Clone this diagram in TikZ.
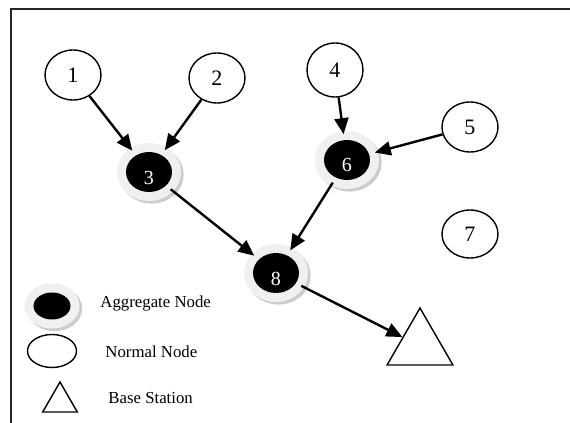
\documentclass[tikz,border=0pt]{standalone}
\usepackage{fontspec}
\setmainfont{Liberation Serif}
\usetikzlibrary{shapes.geometric,arrows.meta}
\begin{document}
\begin{tikzpicture}[x=0.5pt,y=-0.5pt,
    normal/.style={ellipse,draw,line width=0.7pt,inner sep=0pt,
      minimum width=28pt,minimum height=25pt,font=\fontsize{11}{11}\selectfont},
    agg/.style={ellipse,fill=black,text=white,inner sep=0pt,outer sep=3pt,
      minimum width=23pt,minimum height=20pt,font=\fontsize{10}{10}\selectfont,
      preaction={draw=gray!40,line width=9pt,transform canvas={xshift=1.3pt,yshift=-1.3pt}},
      preaction={draw=gray!12,line width=9pt}},
    base/.style={regular polygon,regular polygon sides=3,draw,line width=0.7pt,inner sep=0pt},
    legendtext/.style={anchor=west,inner sep=0pt,font=\fontsize{8.4}{9}\selectfont}]
  \useasboundingbox (0,0) rectangle (570,423);
  \draw[line width=1pt,black!85] (570,9) -- (11,9) -- (11,423);
  \draw
    (73,75) node[normal] (1){1}
    (217,78) node[normal] (2){2}
    (149,172) node[agg] (3){\smash{\raisebox{-6pt}{3}}}
    (335,70) node[normal,minimum height=27pt] (4){4}
    (470,127) node[normal] (5){5}
    (347,160) node[agg] (6){\smash{\raisebox{-6pt}{6}}}
    (470,234) node[normal,minimum height=24pt] (7){7}
    (276,273) node[agg] (8){\smash{\raisebox{-6pt}{8}}}
    (420,346) node[base,minimum size=38pt] (bs){};
  % legend
  \draw
    (52,306) node[agg,minimum width=18.5pt,minimum height=13.5pt] (lagg){}
    (52,351) node[normal,minimum width=24.5pt,minimum height=16.5pt] (lnorm){}
    (60,402) node[base,minimum size=20pt] (lbs){}
    (100,303) node[legendtext] (tagg){Aggregate Node}
    (105,352) node[legendtext] (tnorm){Normal Node}
    (108,398) node[legendtext] (tbs){Base Station};
  \begin{scope}[-{Triangle[length=8pt,width=7pt]},line width=1.2pt]
    \draw (1) to (3);
    \draw (2) to (3);
    \draw (4) to (6);
    \draw (5) to (6);
    \draw (3) to (8);
    \draw (6) to (8);
    \draw (8) to (bs);
  \end{scope}
\end{tikzpicture}
\end{document}
